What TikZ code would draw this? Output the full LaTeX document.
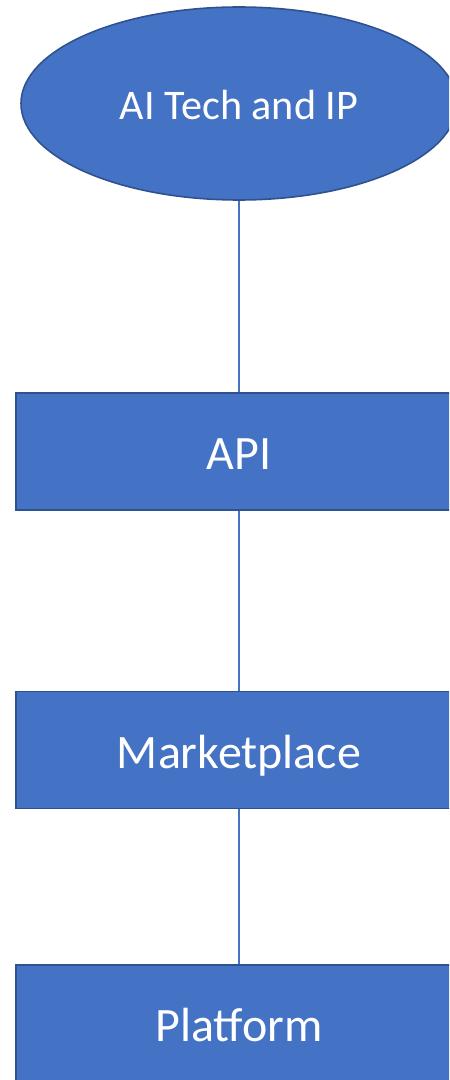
\documentclass[tikz,border=0pt]{standalone}
\usepackage{fontspec}
\setmainfont{Carlito}
\usepackage{tikz}
\usetikzlibrary{shapes.geometric}
\definecolor{cfill}{HTML}{4472C4}
\definecolor{cedge}{HTML}{2F528F}
\tikzset{
  stage/.style={rectangle,fill=cfill,draw=cedge,line width=0.9pt,
    minimum width=8.92cm,minimum height=2.34cm,align=center,inner sep=0pt,
    text height=0.72cm,text depth=0pt,
    text=white,font=\fontsize{27.3}{32}\selectfont},
  root/.style={ellipse,fill=cfill,draw=cedge,line width=0.9pt,
    minimum width=8.72cm,minimum height=3.86cm,inner sep=0pt,
    text height=0.645cm,text depth=0pt,
    text=white,font=\fontsize{24}{28}\selectfont},
  link/.style={draw=cfill,line width=0.7pt}
}
\begin{document}
\begin{tikzpicture}
\useasboundingbox (0,0) rectangle (8.98,-21.6);
\clip (0,0) rectangle (8.98,-21.6);
% ---------- chain of stages ----------
\node[root] (tech) at (4.78,-2.07) {AI Tech and IP};
\node[stage] (api) at (4.78,-9.03) {API};
\node[stage] (market) at (4.78,-15.0) {Marketplace};
\node[stage] (platform) at (4.78,-20.47) {Platform};
% ---------- links ----------
\draw[link] (tech.south) -- (api.north);
\draw[link] (api.south) -- (market.north);
\draw[link] (market.south) -- (platform.north);
\end{tikzpicture}
\end{document}
